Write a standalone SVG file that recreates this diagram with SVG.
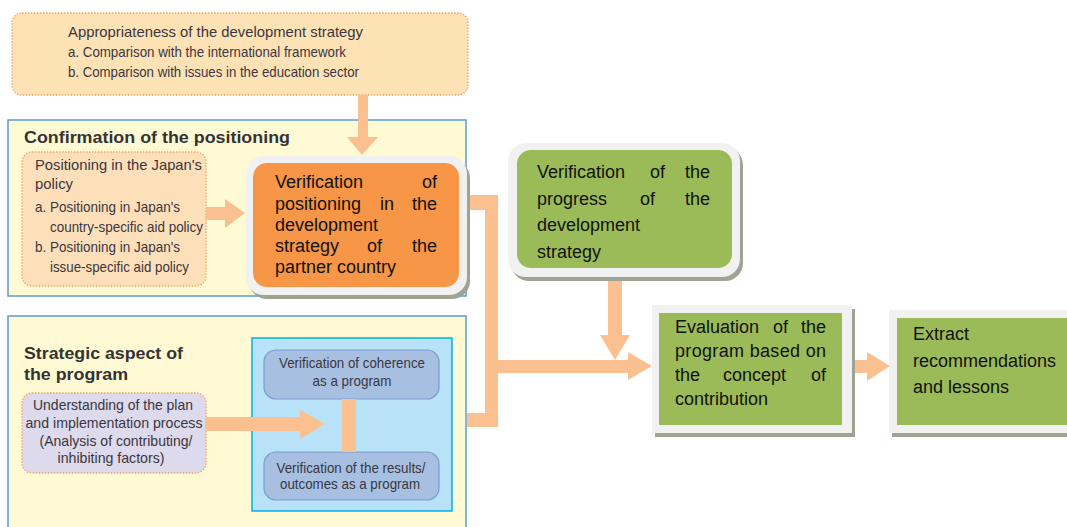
<svg xmlns="http://www.w3.org/2000/svg" width="1067" height="527" viewBox="0 0 1067 527">
<defs>
<style>
.sm{font-family:"Liberation Sans",Arial,sans-serif;font-size:15px;fill:#3b3640;}
.ttl{font-family:"Liberation Sans",Arial,sans-serif;font-size:17px;font-weight:bold;fill:#333;}
.big{font-family:"Liberation Sans",Arial,sans-serif;font-size:18px;fill:#111;}
.bar{fill:#fac08f;}
.dot{stroke:#f3a467;stroke-width:1.3;stroke-dasharray:1.5 1.5;}
.frame{fill:#f1f1f1;}
.shadow{fill:#9fa394;}
</style>
</defs>
<rect width="1067" height="527" fill="#fff"/>

<g id="top-box">
<rect x="12" y="13" width="456" height="82" rx="10" fill="#fde2b6" class="dot"/>
<text class="sm" x="68" y="37" textLength="295" lengthAdjust="spacingAndGlyphs">Appropriateness of the development strategy</text>
<text class="sm" x="68" y="57" textLength="278" lengthAdjust="spacingAndGlyphs">a. Comparison with the international framework</text>
<text class="sm" x="68" y="77" textLength="291" lengthAdjust="spacingAndGlyphs">b. Comparison with issues in the education sector</text>
</g>

<g id="confirmation-frame">
<rect x="8" y="120" width="458" height="176" fill="#fffad3" stroke="#5b9bd5" stroke-width="1.5"/>
<text class="ttl" x="24" y="143" textLength="266" lengthAdjust="spacingAndGlyphs">Confirmation of the positioning</text>
</g>

<g id="strategic-frame">
<rect x="8" y="316" width="458" height="215" fill="#fffad3" stroke="#5b9bd5" stroke-width="1.5"/>
<text class="ttl" x="24" y="359" textLength="159" lengthAdjust="spacingAndGlyphs">Strategic aspect of</text>
<text class="ttl" x="24" y="380" textLength="104" lengthAdjust="spacingAndGlyphs">the program</text>
</g>

<g id="positioning-japan">
<rect x="22" y="152" width="184" height="134" rx="10" fill="#fde0ba" class="dot"/>
<text class="sm" x="35" y="170" textLength="167" lengthAdjust="spacingAndGlyphs">Positioning in the Japan's</text>
<text class="sm" x="35" y="189" textLength="38" lengthAdjust="spacingAndGlyphs">policy</text>
<text class="sm" x="35" y="212" textLength="145" lengthAdjust="spacingAndGlyphs">a. Positioning in Japan's</text>
<text class="sm" x="50" y="232" textLength="153" lengthAdjust="spacingAndGlyphs">country-specific aid policy</text>
<text class="sm" x="35" y="252" textLength="145" lengthAdjust="spacingAndGlyphs">b. Positioning in Japan's</text>
<text class="sm" x="50" y="272" textLength="139" lengthAdjust="spacingAndGlyphs">issue-specific aid policy</text>
</g>

<g id="verification-positioning">
<rect class="shadow" x="249" y="160" width="221" height="139" rx="18"/>
<rect class="frame" x="246" y="156" width="221" height="139" rx="18"/>
<rect x="253" y="163" width="206" height="124" rx="14" fill="#f79646"/>
<text class="big" y="188"><tspan x="275">Verification</tspan><tspan x="437" text-anchor="end">of</tspan></text>
<text class="big" y="210"><tspan x="275">positioning</tspan><tspan x="380">in</tspan><tspan x="437" text-anchor="end">the</tspan></text>
<text class="big" x="275" y="231">development</text>
<text class="big" y="252"><tspan x="275">strategy</tspan><tspan x="367">of</tspan><tspan x="437" text-anchor="end">the</tspan></text>
<text class="big" x="275" y="273">partner country</text>
</g>

<g id="understanding">
<rect x="22" y="393" width="184" height="80" rx="10" fill="#dcdaec" class="dot"/>
<text class="sm" x="113" y="410" text-anchor="middle" textLength="160" lengthAdjust="spacingAndGlyphs">Understanding of the plan</text>
<text class="sm" x="114" y="428" text-anchor="middle" textLength="177" lengthAdjust="spacingAndGlyphs">and implementation process</text>
<text class="sm" x="116" y="446" text-anchor="middle" textLength="153" lengthAdjust="spacingAndGlyphs">(Analysis of contributing/</text>
<text class="sm" x="111" y="463" text-anchor="middle" textLength="107" lengthAdjust="spacingAndGlyphs">inhibiting factors)</text>
</g>

<g id="program-verification">
<rect x="252" y="338" width="200" height="173" fill="#b8e2f8" stroke="#00b0f0" stroke-width="1.5"/>
</g>

<g id="coherence">
<rect x="264" y="350" width="175" height="49" rx="12" fill="#a7c0e2" stroke="#7a9bd0" stroke-width="1.2"/>
<text class="sm" x="352" y="368" text-anchor="middle" textLength="146" lengthAdjust="spacingAndGlyphs">Verification of coherence</text>
<text class="sm" x="352" y="386" text-anchor="middle" textLength="79" lengthAdjust="spacingAndGlyphs">as a program</text>
</g>

<g id="results">
<rect x="264" y="452" width="175" height="48" rx="12" fill="#a7c0e2" stroke="#7a9bd0" stroke-width="1.2"/>
<text class="sm" x="351" y="473" text-anchor="middle" textLength="149" lengthAdjust="spacingAndGlyphs">Verification of the results/</text>
<text class="sm" x="350" y="489" text-anchor="middle" textLength="140" lengthAdjust="spacingAndGlyphs">outcomes as a program</text>
</g>

<g id="verification-progress">
<rect class="shadow" x="511" y="147" width="232" height="134" rx="18"/>
<rect class="frame" x="508" y="143" width="232" height="134" rx="18"/>
<rect x="517" y="150" width="215" height="118" rx="14" fill="#9bbb59"/>
<text class="big" y="178"><tspan x="537">Verification</tspan><tspan x="650">of</tspan><tspan x="710" text-anchor="end">the</tspan></text>
<text class="big" y="205"><tspan x="537">progress</tspan><tspan x="640">of</tspan><tspan x="710" text-anchor="end">the</tspan></text>
<text class="big" x="537" y="231">development</text>
<text class="big" x="537" y="258">strategy</text>
</g>

<g id="evaluation">
<rect class="shadow" x="655" y="309" width="200" height="128"/>
<rect class="frame" x="652" y="305" width="200" height="128"/>
<rect x="659" y="313" width="183" height="112" fill="#9bbb59"/>
<text class="big" y="333"><tspan x="675">Evaluation</tspan><tspan x="773">of</tspan><tspan x="826" text-anchor="end">the</tspan></text>
<text class="big" x="675" y="357" textLength="151" lengthAdjust="spacing">program based on</text>
<text class="big" y="381"><tspan x="675">the</tspan><tspan x="723">concept</tspan><tspan x="826" text-anchor="end">of</tspan></text>
<text class="big" x="675" y="405">contribution</text>
</g>

<g id="extract">
<rect class="shadow" x="892" y="314" width="180" height="123"/>
<rect class="frame" x="889" y="310" width="180" height="123"/>
<rect x="897" y="318" width="172" height="107" fill="#9bbb59"/>
<text class="big" x="913" y="340">Extract</text>
<text class="big" x="913" y="367">recommendations</text>
<text class="big" x="913" y="393">and lessons</text>
</g>

<g id="connectors">
<rect class="bar" x="358" y="95" width="10" height="43"/>
<polygon class="bar" points="347,137 378,137 362,155"/>
<rect class="bar" x="206" y="207" width="20" height="13"/>
<polygon class="bar" points="225,199 245,213 225,228"/>
<rect class="bar" x="206" y="417" width="95" height="14"/>
<polygon class="bar" points="300,410 325,424 300,439"/>
<rect class="bar" x="342" y="399" width="14" height="53"/>
<polygon class="bar" points="470,195 498,195 498,360 628,360 628,352 652,366 628,380 628,373 498,373 498,427 467,427 467,413 485,413 485,210 470,210"/>
<rect class="bar" x="608" y="281" width="14" height="55"/>
<polygon class="bar" points="600,335 630,335 615,360"/>
<rect class="bar" x="855" y="360" width="13" height="13"/>
<polygon class="bar" points="867,352 890,366 867,381"/>
</g>
</svg>
